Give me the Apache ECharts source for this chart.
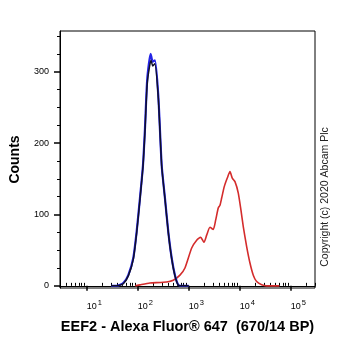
<!DOCTYPE html>
<html><head><meta charset="utf-8">
<script src="https://cdn.jsdelivr.net/npm/echarts@6/dist/echarts.min.js"></script>
<style>html,body{margin:0;padding:0;background:#fff}#c{width:362px;height:351px}</style>
</head><body><div id="c"></div>
<script>
// Fluorescence (x) and counts (y)
const blueX = [30, 38.7, 52.2, 65.5, 82.0, 95.5, 110.9, 127.1, 139.0, 154.2, 179.9, 196.8, 218.3, 253.5, 295.8, 342.8, 398.1, 464.5, 538.3, 625.2, 729.5, 1000];
const blueY = [0, 0, 4, 15, 39, 76, 123, 169, 220, 290, 325, 314, 316, 267, 169, 123, 76, 39, 15, 1.5, 0, 0];
const blackX = [30, 38.7, 52.2, 65.5, 82.0, 95.5, 110.9, 127.1, 139.0, 154.2, 183.0, 198.0, 216.0, 253.5, 295.8, 342.8, 398.1, 464.5, 538.3, 625.2, 729.5, 1000];
const blackY = [0, 0, 3, 14, 37, 74, 121, 167, 216, 284, 316, 308, 311, 264, 168, 122, 75, 38, 14, 1, 0, 0];
const redX = [90, 111, 174, 318, 499, 675, 845, 1146, 1436, 1718, 1995, 2254, 2618, 3034, 3381, 3802, 4111, 4436, 4989, 5715, 6457, 7161, 8091, 9397, 10600, 11770, 13710, 15920, 18490, 21530, 26980, 33810, 60000];
const redY = [0, 1.4, 4, 5, 8, 15, 25, 53, 64, 68, 61, 71, 82, 79, 92, 109, 113, 123, 139, 151, 160, 151, 146, 130, 106, 83, 55, 32, 15, 6, 1.4, 0, 0];
const xMajor = [10, 100, 1000, 10000, 100000];
const yMajor = [0, 100, 200, 300];
const yMinor = [25, 50, 75, 125, 150, 175, 225, 250, 275, 325, 350];

const xMinor = [];
[1, 10, 100, 1000, 10000, 100000].forEach(d => { for (let k = 2; k <= 9; k++) { const v = d * k; if (v >= 3 && v <= 300000) xMinor.push(v); } });

const zip = (a, b) => a.map((v, i) => [v, b[i]]);
const font = 'Liberation Sans, Arial, sans-serif';
const chart = echarts.init(document.getElementById('c'));
const xBase = { type: 'log', logBase: 10, min: 3, max: 300000, gridIndex: 0, splitLine: { show: false }, axisLine: { show: true, lineStyle: { color: '#000', width: 1 } } };
chart.setOption({
  animation: false,
  grid: { left: 60, top: 31, right: 47, bottom: 63, containLabel: false, outerBoundsMode: 'none', show: true, borderColor: '#000', borderWidth: 1, backgroundColor: 'transparent' },
  xAxis: [
    Object.assign({}, xBase, {
      name: 'EEF2 - Alexa Fluor\u00AE 647  (670/14 BP)', nameLocation: 'middle', nameGap: 31,
      nameTextStyle: { fontFamily: font, fontWeight: 'bold', fontSize: 14.5, color: '#000' },
      axisTick: { show: true, customValues: xMajor, length: 5, lineStyle: { width: 1.5, color: '#000' } },
      axisLabel: { customValues: xMajor, align: 'left', margin: 11, fontFamily: font, color: '#000',
        formatter: v => '{a|10}{b|' + Math.round(Math.log10(v)) + '}',
        rich: { a: { fontSize: 9, fontFamily: font, color: '#000' }, b: { fontSize: 7.5, fontFamily: font, color: '#000', padding: [0, 0, 7, 1] } } }
    }),
    Object.assign({}, xBase, {
      axisTick: { show: true, customValues: xMinor, length: 3, lineStyle: { width: 1, color: '#000' } },
      axisLabel: { show: false }
    })
  ],
  yAxis: [
    { type: 'value', min: -3, max: 357, splitLine: { show: false },
      name: 'Counts', nameLocation: 'middle', nameGap: 38,
      nameTextStyle: { fontFamily: font, fontWeight: 'bold', fontSize: 14, color: '#000' },
      axisLine: { show: true, lineStyle: { color: '#000' } },
      axisTick: { show: true, customValues: yMajor, length: 6, lineStyle: { width: 1.5, color: '#000' } },
      axisLabel: { customValues: yMajor, fontFamily: font, fontSize: 9, color: '#000', margin: 11 } },
    { type: 'value', min: -3, max: 357, splitLine: { show: false }, position: 'left',
      axisLine: { show: false },
      axisTick: { show: true, customValues: yMinor, length: 3, lineStyle: { width: 1, color: '#000' } },
      axisLabel: { show: false } }
  ],
  graphic: [{ type: 'text', x: 325, y: 197, rotation: Math.PI / 2,
    style: { text: 'Copyright (c) 2020 Abcam Plc', font: '10.5px ' + font, fill: '#222', align: 'center', verticalAlign: 'middle' } }],
  series: [
    { type: 'line', data: zip(redX, redY), showSymbol: false, smooth: 0.2, lineStyle: { color: '#d42c2c', width: 1.6 }, z: 2 },
    { type: 'line', data: zip(blueX, blueY), showSymbol: false, smooth: 0.2, lineStyle: { color: '#2424e6', width: 2.2 }, z: 3 },
    { type: 'line', data: zip(blackX, blackY), showSymbol: false, smooth: 0.2, lineStyle: { color: '#101028', width: 1.5 }, z: 4 }
  ]
});
</script></body></html>
